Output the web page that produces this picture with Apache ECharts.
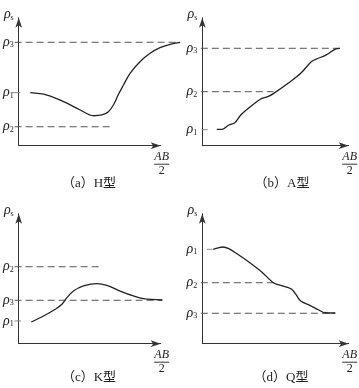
<!DOCTYPE html>
<html><head><meta charset="utf-8">
<script src="https://cdn.jsdelivr.net/npm/echarts@6/dist/echarts.min.js"></script>
<style>html,body{margin:0;padding:0;background:#fff}#c{width:359px;height:388px}</style>
</head><body><div id="c"></div>
<script>
// Captions
const captions = ['（a）H型', '（b）A型', '（c）K型', '（d）Q型'];
// (a) H type curve
const hX = [10.7, 22.1, 33.5, 44.9, 54.0, 59.7, 64.2, 67.6, 71.0, 74.5, 79.0, 85.8, 92.7, 99.5, 106.4, 113.2];
const hY = [41.4, 39.6, 34.4, 27.9, 23.4, 24.0, 26.6, 31.8, 40.0, 47.4, 56.6, 65.6, 72.2, 76.6, 79.2, 80.8];
const hLevels = [41.4, 14.8, 80.8];          // rho1, rho2, rho3
const hDash = [[-2.3, 3.9], [0, 67.6], [0, 113]];
// (b) A type curve
const aX = [12.1, 16.2, 21.2, 25.8, 30.3, 38.3, 45.1, 50.8, 55.3, 66.7, 75.8, 83.8, 87.2, 95.2, 102.0, 105.5];
const aY = [12.8, 12.8, 16.2, 18.0, 24.0, 31.0, 36.3, 38.3, 40.9, 49.2, 56.6, 65.6, 67.5, 70.9, 75.5, 76.1];
const aLevels = [12.5, 42.2, 76.1];
const aDash = [[0.5, 5.3], [0, 55.1], [0, 105.5]];
// (c) K type curve
const kX = [11.4, 19.8, 27.8, 32.4, 35.8, 40.3, 47.1, 56.3, 63.1, 72.2, 81.3, 88.1, 101.1];
const kY = [16.7, 21.3, 26.5, 30.3, 35.4, 40.5, 44.4, 46.2, 44.9, 40.5, 36.7, 34.6, 33.6];
const kLevels = [17.5, 59.2, 33.4];
const kDash = [[0, 4.4], [0, 59.7], [0, 101.1]];
// (d) Q type curve
const qX = [9.4, 13.3, 16.7, 21.2, 28.0, 37.2, 46.2, 54.2, 57.7, 64.5, 69.0, 72.4, 75.8, 82.7, 89.5, 94.1, 102.0];
const qY = [72.6, 73.8, 74.4, 73.1, 68.8, 62.3, 55.2, 47.5, 45.7, 43.8, 41.8, 37.5, 32.8, 29.5, 25.9, 23.8, 23.6];
const qLevels = [72.6, 46.9, 23.4];
const qDash = [[4.6, 8.9], [0, 55.3], [0, 102.0]];

const SERIF = '"Liberation Serif","DejaVu Serif",serif';
const CAPFONT = '"Liberation Serif","Noto Sans CJK SC","Noto Sans CJK JP",serif';
const INK = '#222';

const panels = [
  {x: hX, y: hY, lv: hLevels, dash: hDash},
  {x: aX, y: aY, lv: aLevels, dash: aDash},
  {x: kX, y: kY, lv: kLevels, dash: kDash},
  {x: qX, y: qY, lv: qLevels, dash: qDash}
];
const gridPos = [
  {left: 14.3, top: 17.7, width: 146.4, height: 128},
  {left: 202.3, top: 17.7, width: 146.4, height: 128},
  {left: 14.3, top: 213.7, width: 146.4, height: 130},
  {left: 202.3, top: 213.7, width: 146.4, height: 130}
];
const X_MIN = -10, X_MAX = 120;
const capPos = [[89, 184], [282, 184], [89, 378], [281, 378]];

const rhoRich = {
  r: {fontFamily: SERIF, fontStyle: 'italic', fontSize: 14, color: INK, lineHeight: 14},
  s: {fontFamily: SERIF, fontSize: 8, color: INK, verticalAlign: 'bottom', lineHeight: 9}
};
const fracRich = {
  n: {fontFamily: SERIF, fontStyle: 'italic', fontSize: 12, color: INK, lineHeight: 11, align: 'center'},
  b: {width: 15, height: 1, backgroundColor: '#333', fontSize: 1, lineHeight: 3, align: 'center'},
  d: {fontFamily: SERIF, fontSize: 12, color: INK, lineHeight: 11, align: 'center'}
};

const grid = [], xAxis = [], yAxis = [], series = [];
const hiddenAxis = {axisLine: {show: false}, axisTick: {show: false}, axisLabel: {show: false}, splitLine: {show: false}};

// axis grids (visible axes)
panels.forEach((p, i) => {
  grid.push(Object.assign({}, gridPos[i]));
  xAxis.push({
    type: 'value', gridIndex: i, min: 0, max: 100,
    axisLine: {show: true, symbol: ['none', 'arrow'], symbolSize: [5, 10], lineStyle: {color: '#333', width: 1}},
    axisTick: {show: false}, axisLabel: {show: false}, splitLine: {show: false},
    name: '{n|AB}\n{b| }\n{d|2}', nameLocation: 'end', nameGap: 1,
    nameTextStyle: {align: 'center', verticalAlign: 'top', padding: [6, 0, 0, 0], rich: fracRich}
  });
  const lv = p.lv;
  yAxis.push({
    type: 'value', gridIndex: i, min: 0, max: 100,
    axisLine: {show: true, symbol: ['none', 'arrow'], symbolSize: [5, 10], lineStyle: {color: '#333', width: 1}},
    axisTick: {show: false}, splitLine: {show: false},
    axisLabel: {
      show: true, customValues: lv.slice(), margin: 5,
      formatter: v => {
        let k = 0, best = 1e9;
        lv.forEach((L, j) => { if (Math.abs(L - v) < best) { best = Math.abs(L - v); k = j; } });
        return '{r|ρ}{s|' + (k + 1) + '}';
      },
      rich: rhoRich
    },
    name: '{r|ρ}{s|s}', nameLocation: 'end', nameGap: 3,
    nameTextStyle: {align: 'right', verticalAlign: 'middle', padding: [0, 5, 0, 0], rich: rhoRich}
  });
});
// data grids (same scale, wider, hidden axes)
panels.forEach((p, i) => {
  const g = gridPos[i];
  const pxPerUnit = g.width / 100;
  grid.push({left: g.left + X_MIN * pxPerUnit, top: g.top, height: g.height, width: (X_MAX - X_MIN) * pxPerUnit});
  xAxis.push(Object.assign({type: 'value', gridIndex: 4 + i, min: X_MIN, max: X_MAX}, hiddenAxis));
  yAxis.push(Object.assign({type: 'value', gridIndex: 4 + i, min: 0, max: 100}, hiddenAxis));
  const lv = p.lv;
  p.dash.forEach((d, j) => {
    const isTick = j === 0;
    series.push({
      type: 'line', xAxisIndex: 4 + i, yAxisIndex: 4 + i, silent: true,
      showSymbol: false, symbol: 'none',
      data: [[d[0], lv[j]], [d[1], lv[j]]],
      lineStyle: {color: isTick ? '#888' : '#555', width: 1, type: isTick ? 'solid' : [7, 4]}
    });
  });
  series.push({
    type: 'line', xAxisIndex: 4 + i, yAxisIndex: 4 + i, silent: true,
    showSymbol: false, symbol: 'none', smooth: 0.35,
    data: p.x.map((x, k) => [x, p.y[k]]),
    lineStyle: {color: INK, width: 1.3}
  });
});

const graphic = captions.map((t, i) => ({
  type: 'text', x: capPos[i][0], y: capPos[i][1],
  style: {text: t, fill: INK, font: '13px ' + CAPFONT, align: 'center', verticalAlign: 'middle'}
}));

const chart = echarts.init(document.getElementById('c'), null, {renderer: 'canvas'});
chart.setOption({
  backgroundColor: '#fff', animation: false,
  grid, xAxis, yAxis, series, graphic
});
</script></body></html>
